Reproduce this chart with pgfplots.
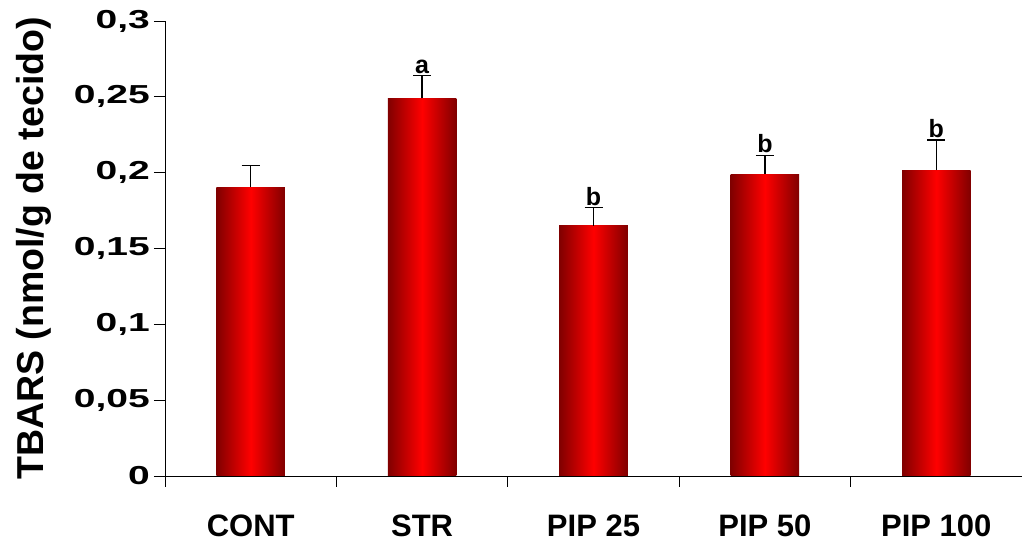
\documentclass[border=0pt]{standalone}
\usepackage{pgfplots}
\pgfplotsset{compat=1.18}
\usepackage{graphicx}
\usepackage{fontspec}
\setmainfont{Liberation Sans}
\definecolor{barDark}{RGB}{128,0,0}
\definecolor{barRed}{RGB}{255,0,0}
\begin{document}
\begin{tikzpicture}
\useasboundingbox (-165pt,-69pt) rectangle (857pt,476pt);
\begin{axis}[
  scale only axis, width=857pt, height=455pt,
  xmin=-0.5, xmax=4.5, ymin=0, ymax=0.3,
  axis lines*=left,
  axis line style={black, line width=0.8pt},
  tick align=outside, major tick length=11pt,
  tick style={black, line width=0.8pt},
  xtick={-0.5,0.5,1.5,2.5,3.5,4.5},
  xticklabels={CONT,STR,PIP 25,PIP 50,PIP 100},
  x tick label as interval,
  xticklabel style={font=\bfseries\fontsize{31}{36}\selectfont, yshift=-24pt},
  ytick={0,0.05,0.1,0.15,0.2,0.25,0.3},
  scaled y ticks=false,
  y tick label style={font=\bfseries\fontsize{26}{30}\selectfont, inner xsep=4pt},
  yticklabel={\scalebox{1.5}[1]{\pgfmathprintnumber[fixed,precision=2,use comma,assume math mode=true]{\tick}}},
  ylabel={TBARS (nmol/g de tecido)},
  every axis y label/.style={at={(axis description cs:-0.1535,0.5)}, rotate=90, anchor=center,
    font=\bfseries\fontsize{37.5}{44}\selectfont},
  clip=false,
  barstyle/.style={ybar, bar width=0.4, draw=none, left color=barDark, right color=barDark, middle color=barRed},
]
\addplot[barstyle] coordinates {(0,0.1905)};
\addplot[barstyle] coordinates {(1,0.249)};
\addplot[barstyle] coordinates {(2,0.165)};
\addplot[barstyle] coordinates {(3,0.199)};
\addplot[barstyle] coordinates {(4,0.2015)};
\addplot[draw=none, mark=none, forget plot,
  error bars/.cd, y dir=plus, y explicit,
  error bar style={draw=black, line width=1.3pt},
  error mark options={draw=black, rotate=90, mark size=9pt, line width=1.3pt}]
  coordinates {(0,0.1905) +- (0,0.014) (1,0.249) +- (0,0.015) (2,0.165) +- (0,0.012) (3,0.199) +- (0,0.0125) (4,0.2015) +- (0,0.02)};
\addplot[draw=none, mark=none, forget plot, nodes near coords, point meta=explicit symbolic,
  nodes near coords style={anchor=south, inner sep=0pt, yshift=2pt, text=black,
    font=\bfseries\fontsize{25}{28}\selectfont}]
  coordinates {(1,0.264)[a] (2,0.177)[b] (3,0.2115)[b] (4,0.2215)[b]};
\end{axis}
\end{tikzpicture}
\end{document}
